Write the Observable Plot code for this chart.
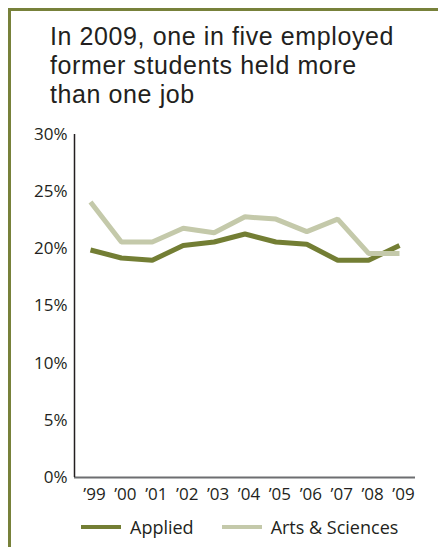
<!DOCTYPE html>
<html>
<head>
<meta charset="utf-8">
<script src="https://cdn.jsdelivr.net/npm/d3@7"></script>
<script src="https://cdn.jsdelivr.net/npm/@observablehq/plot@0.6"></script>
<style>
  html, body { margin: 0; padding: 0; background: #fff; }
  body { width: 438px; height: 547px; position: relative; overflow: hidden; font-family: "Open Sans", sans-serif; color: #231f20; }
  #frame { position: absolute; left: 8px; top: 8px; width: 440px; height: 560px; border-left: 3px solid #77813a; border-top: 3px solid #77813a; box-sizing: border-box; }
  #title { position: absolute; left: 50px; top: 22px; font-family: "Liberation Sans", sans-serif; font-size: 25px; line-height: 29px; letter-spacing: 0.6px; white-space: nowrap; }
  #chart { position: absolute; left: 0; top: 120px; }
  #legend { position: absolute; left: 81px; top: 515px; display: flex; align-items: center; font-size: 18px; line-height: 24px; }
  .sw { display: inline-block; width: 40px; height: 4px; margin-right: 9px; }
  .item { display: flex; align-items: center; margin-right: 28px; }
</style>
</head>
<body>
<div id="frame"></div>
<div id="title">In 2009, one in five employed<br>former students held more<br>than one job</div>
<div id="chart"></div>
<div id="legend"></div>
<script>
const years = [1999, 2000, 2001, 2002, 2003, 2004, 2005, 2006, 2007, 2008, 2009];
const applied = [19.9, 19.2, 19.0, 20.3, 20.6, 21.3, 20.6, 20.4, 19.0, 19.0, 20.3];
const artsSciences = [24.1, 20.6, 20.6, 21.8, 21.4, 22.8, 22.6, 21.5, 22.6, 19.6, 19.6];
const seriesNames = ["Applied", "Arts & Sciences"];
const seriesColors = ["#737e34", "#c4c9aa"];
const yTicks = [0, 5, 10, 15, 20, 25, 30];

const data = [];
years.forEach((yr, i) => {
  data.push({year: yr, value: applied[i], series: seriesNames[0]});
  data.push({year: yr, value: artsSciences[i], series: seriesNames[1]});
});

const chart = Plot.plot({
  width: 438,
  height: 387,
  marginLeft: 74,
  marginRight: 23,
  marginTop: 14,
  marginBottom: 30,
  style: {fontFamily: "Open Sans, sans-serif", fontSize: "17px", color: "#231f20", background: "transparent"},
  x: {domain: [years[0], years[years.length - 1]], inset: 16},
  y: {domain: [0, 30]},
  color: {domain: seriesNames, range: seriesColors},
  marks: [
    Plot.axisY({ticks: yTicks, tickSize: 0, tickPadding: 7, tickFormat: d => d + "%", label: null, fontSize: 17}),
    Plot.axisX({ticks: years, tickSize: 0, tickPadding: 10, tickFormat: d => "\u2019" + String(d).slice(2), label: null, fontSize: 17, dx: 4}),
    Plot.line(data, {x: "year", y: "value", z: "series", stroke: "series", strokeWidth: 5, strokeLinejoin: "miter", strokeLinecap: "butt"}),
    Plot.ruleY([0], {stroke: "#6d6e71", strokeWidth: 2}),
    Plot.ruleX([years[0]], {dx: -16, stroke: "#231f20", strokeWidth: 1.5})
  ]
});
document.getElementById("chart").appendChild(chart);

const legend = document.getElementById("legend");
seriesNames.forEach((name, i) => {
  const item = document.createElement("div");
  item.className = "item";
  const sw = document.createElement("span");
  sw.className = "sw";
  sw.style.background = seriesColors[i];
  const label = document.createElement("span");
  label.textContent = name;
  item.appendChild(sw);
  item.appendChild(label);
  legend.appendChild(item);
});
</script>
</body>
</html>
